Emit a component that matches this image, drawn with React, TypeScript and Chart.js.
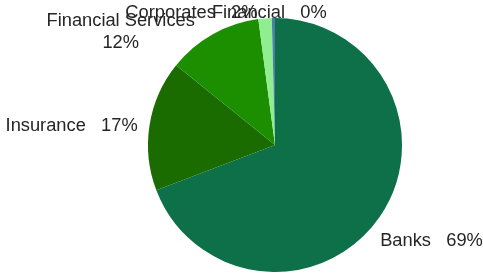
import React, { useEffect, useRef } from "react";
import { Chart, registerables } from "chart.js";

Chart.register(...registerables);

const categories = ["Banks", "Insurance", "Financial Services", "Corporates", "Financial"];
const shares = [69.2, 16.6, 12.1, 1.7, 0.4];
const sliceColors = ["#0e7048", "#1a6c00", "#1b8f00", "#90ee90", "#4a7fa8"];
const labelLines: string[][] = [["Banks"], ["Insurance"], ["Financial Services", ""], ["Corporates"], ["Financial"]];

// layout nudges for the outside labels (x, y in px)
const labelNudge = [
  [-6, 13],
  [-4, 4],
  [-14, 24],
  [-73, 14],
  [-4, 14],
];

const FONT = '18.3px "Liberation Sans", Arial, sans-serif';

const outsideLabels = {
  id: "outsideLabels",
  afterDraw(chart: any) {
    const ctx = chart.ctx as CanvasRenderingContext2D;
    const meta = chart.getDatasetMeta(0);
    const data = chart.data.datasets[0].data as number[];
    const total = data.reduce((a, b) => a + b, 0);
    ctx.save();
    ctx.font = FONT;
    ctx.fillStyle = "#262626";
    ctx.textBaseline = "middle";
    const lineH = 22;
    meta.data.forEach((arc: any, i: number) => {
      const { x, y, startAngle, endAngle, outerRadius } = arc.getProps(
        ["x", "y", "startAngle", "endAngle", "outerRadius"],
        true
      );
      const mid = (startAngle + endAngle) / 2;
      const ux = Math.cos(mid);
      const uy = Math.sin(mid);
      const pct = Math.round((data[i] / total) * 100) + "%";
      const base = labelLines[i];
      let lines: string[];
      if (base.length > 1) {
        lines = [base[0], pct];
      } else {
        lines = [base[0] + "   " + pct];
      }
      const w = Math.max(...lines.map((l) => ctx.measureText(l).width));
      const h = lines.length * lineH;
      const px = x + (outerRadius + 8) * ux;
      const py = y + (outerRadius + 8) * uy;
      let cx: number;
      if (ux > 0.3) cx = px + w / 2;
      else if (ux < -0.3) cx = px - w / 2;
      else cx = px;
      let cy = py + (uy * h) / 2;
      cx += labelNudge[i][0];
      cy += labelNudge[i][1];
      lines.forEach((l, k) => {
        const ly = cy - h / 2 + lineH / 2 + k * lineH;
        if (lines.length === 1) {
          ctx.textAlign = "left";
          ctx.fillText(l, cx - w / 2, ly);
        } else {
          ctx.textAlign = "center";
          ctx.fillText(l, cx, ly);
        }
      });
    });
    ctx.restore();
  },
};

export default function App() {
  const ref = useRef<HTMLCanvasElement | null>(null);
  useEffect(() => {
    document.body.style.margin = "0";
    const chart = new Chart(ref.current!, {
      type: "pie",
      data: {
        labels: categories,
        datasets: [
          {
            data: shares,
            backgroundColor: sliceColors,
            borderWidth: 0,
          },
        ],
      },
      options: {
        animation: false,
        responsive: false,
        layout: { padding: { left: 148, right: 81, top: 18, bottom: 1 } },
        plugins: {
          legend: { display: false },
          tooltip: { enabled: false },
        },
      },
      plugins: [outsideLabels],
    });
    return () => chart.destroy();
  }, []);
  return (
    <div style={{ position: "fixed", left: 0, top: 0, width: 483, height: 273, background: "#fff" }}>
      <canvas ref={ref} width={483} height={273} style={{ display: "block" }} />
    </div>
  );
}
